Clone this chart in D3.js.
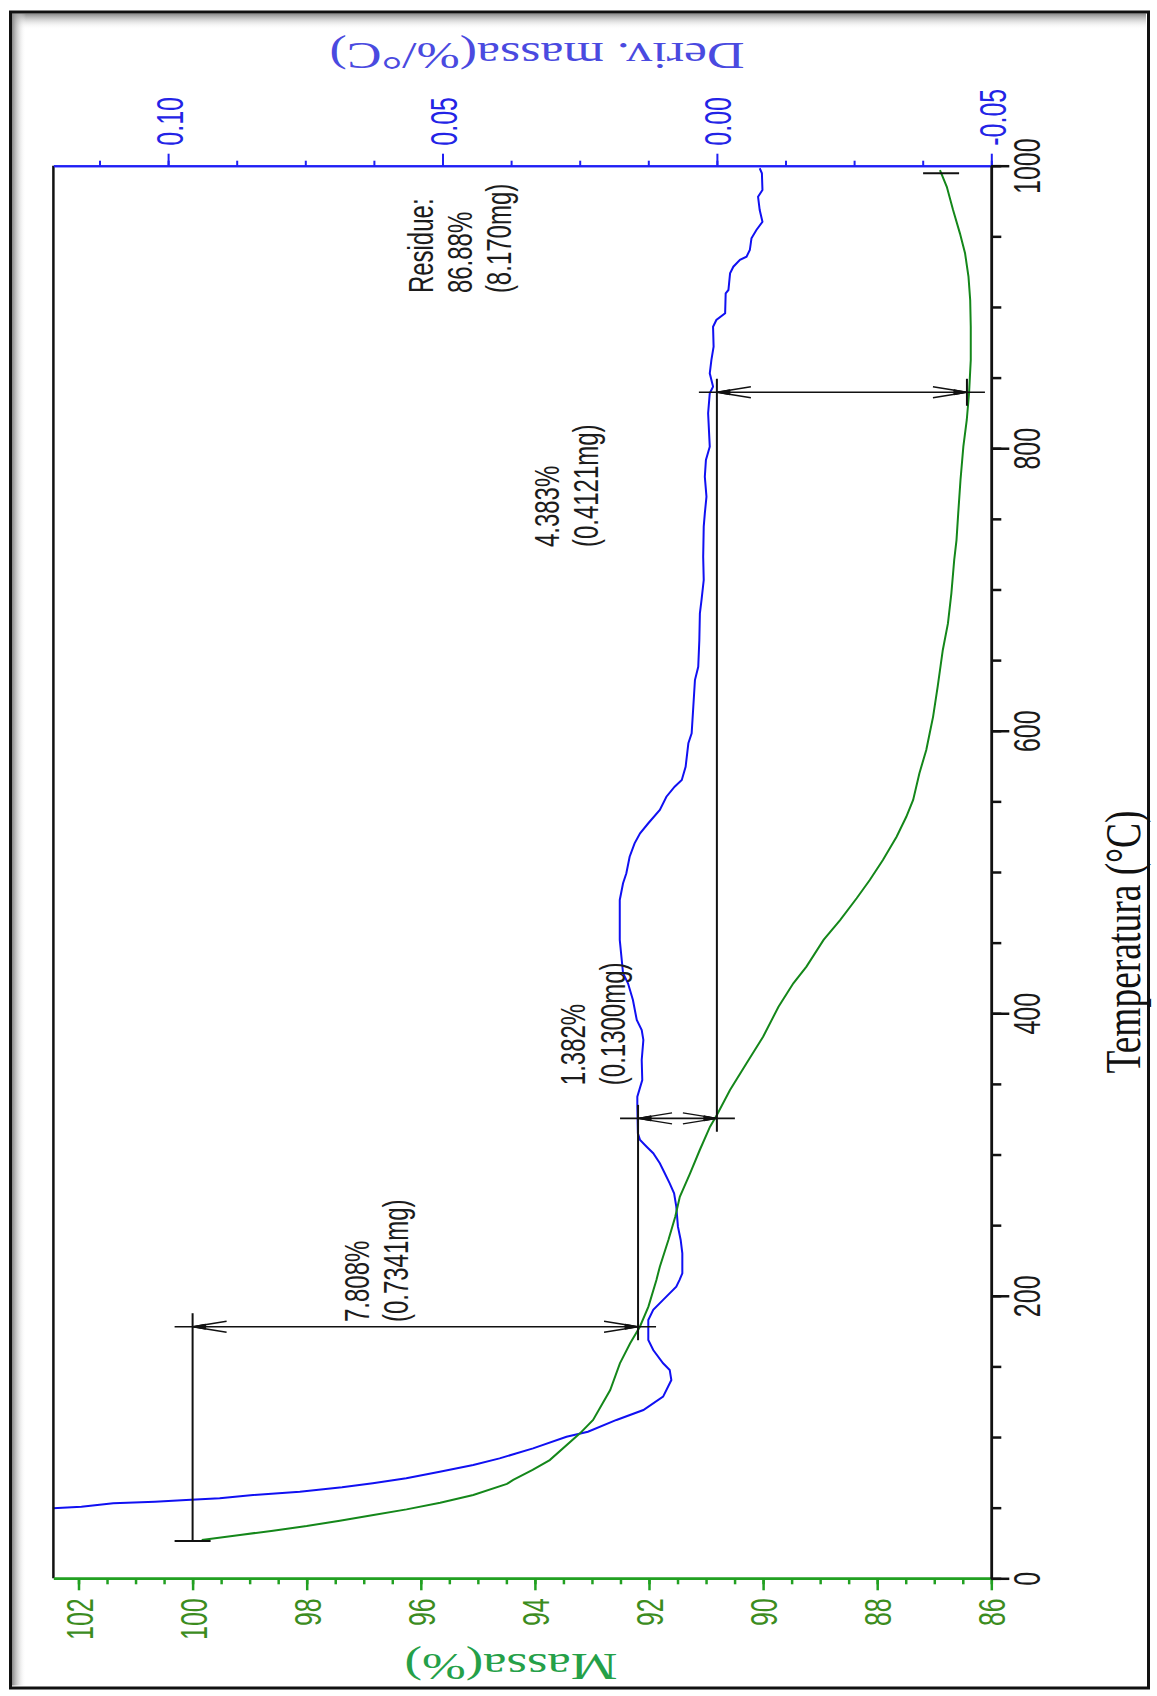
<!DOCTYPE html>
<html>
<head>
<meta charset="utf-8">
<script src="https://cdn.jsdelivr.net/npm/d3@7/dist/d3.min.js"></script>
<style>
  body { margin: 0; background: #fff; }
  svg { display: block; }
</style>
</head>
<body>
<svg id="chart" width="1157" height="1696"></svg>
<script>
// TG curve (mass %) and DTG curve (deriv. mass %/°C)
var tgTemp = [27.1, 30.7, 33.7, 37.0, 40.8, 44.8, 48.8, 53.5, 59.0, 66.8, 69.6, 76.7, 83.7, 102.6, 112.1, 133.3,
  152.2, 166.4, 178.1, 192.3, 211.2, 220.6, 239.5, 256, 270.1, 286.7, 303.2, 319.7, 328, 345.7, 364.6, 383.4,
  404.6, 421.2, 433, 451.9, 466, 481.4, 494.3, 508.5, 525, 539.1, 551, 569.9, 586.4, 598.2, 610, 631.2, 657.2,
  676, 697.3, 720.9, 735, 753.9, 777.5, 801.1, 820, 838.9, 862.5, 886, 904.9, 921.4, 938, 952.1, 968.6, 985.1, 996.9];
var tgMass = [99.84, 99.17, 98.59, 98.0, 97.42, 96.83, 96.25, 95.66, 95.08, 94.49, 94.38, 94.04, 93.74, 93.21,
  92.98, 92.68, 92.51, 92.33, 92.16, 92.01, 91.87, 91.81, 91.66, 91.54, 91.46, 91.28, 91.11, 90.93, 90.81, 90.58,
  90.29, 90.0, 89.73, 89.47, 89.24, 88.94, 88.65, 88.36, 88.13, 87.9, 87.66, 87.49, 87.37, 87.26, 87.14, 87.08,
  87.02, 86.94, 86.85, 86.76, 86.70, 86.65, 86.61, 86.58, 86.54, 86.49, 86.43, 86.39, 86.36, 86.36, 86.37, 86.40,
  86.46, 86.55, 86.67, 86.78, 86.90];

var dtgTemp = [46, 49.6, 50.7, 53.1, 54.2, 55.4, 56.6, 59.0, 61.3, 64.4, 67.3, 70.8, 75.5, 80.2, 84.9, 92.0, 100.2,
  103.8, 112.1, 119.1, 128.6, 140.4, 147.5, 152.2, 161.6, 168.7, 182.9, 190, 197.1, 206.4, 211.2, 215.9, 230.1,
  239.5, 248.9, 263.1, 272.5, 279.6, 286.7, 293.8, 300.9, 305.5, 310.3, 315, 333.9, 340.9, 352.7, 366.9, 381.1,
  388.1, 395.2, 409.4, 421.2, 428.3, 451.9, 480.2, 492, 499.1, 510.8, 520.3, 527.4, 534.5, 543.9, 553.3, 560.4,
  565.1, 574.5, 591.1, 598.2, 617, 635.9, 645.3, 664.2, 683.1, 692.6, 706.7, 723.2, 744.5, 753.9, 765.7, 779.8,
  791.7, 801.1, 824.7, 838.9, 843.6, 853, 862.5, 871.9, 886, 890.8, 895.5, 909.7, 912, 923.8, 928.5, 933.3,
  935.6, 940.3, 948.6, 954.5, 960.3, 968.6, 978, 982.8, 994.6, 998.2];
var dtgDeriv = [0.1235, 0.1210, 0.1158, 0.1100, 0.1024, 0.0967, 0.0906, 0.0845, 0.0760, 0.0683, 0.0627, 0.0566,
  0.0505, 0.0444, 0.0396, 0.0335, 0.0274, 0.0235, 0.0183, 0.0134, 0.0098, 0.0083, 0.0086, 0.0098, 0.0116, 0.0125,
  0.0125, 0.0116, 0.0098, 0.0074, 0.0068, 0.0063, 0.0063, 0.0066, 0.0071, 0.0074, 0.0078, 0.0086, 0.0095, 0.0104,
  0.0116, 0.0128, 0.0140, 0.0144, 0.0145, 0.0145, 0.0136, 0.0137, 0.0134, 0.0137, 0.0146, 0.0153, 0.0162, 0.0171,
  0.0177, 0.0177, 0.0171, 0.0165, 0.0159, 0.0150, 0.0140, 0.0125, 0.0104, 0.0092, 0.0077, 0.0064, 0.0057, 0.0052,
  0.0046, 0.0043, 0.0040, 0.0034, 0.0032, 0.0031, 0.0028, 0.0024, 0.0025, 0.0024, 0.0022, 0.0019, 0.0022, 0.0020,
  0.0013, 0.0016, 0.0013, 0.0007, 0.0013, 0.0010, 0.0006, 0.0007, 0.0001, -0.0015, -0.0016, -0.0021, -0.0024,
  -0.0030, -0.0042, -0.0054, -0.0060, -0.0063, -0.0072, -0.0083, -0.0078, -0.0075, -0.0083, -0.0082, -0.0078];

// axis ticks
var massTicks = [86, 88, 90, 92, 94, 96, 98, 100, 102];
var derivTicks = [-0.05, 0.00, 0.05, 0.10];
var tempTicks = [0, 200, 400, 600, 800, 1000];

// weight-loss steps (TA analysis marks)
var stepTemps = [178.1, 325.6, 839.6];
var stepLevels = [100, 92.192, 90.81, 86.427];
var stepPct = ["7.808%", "1.382%", "4.383%"];
var stepMg = ["(0.7341mg)", "(0.1300mg)", "(0.4121mg)"];
var startTemp = 26.4;
var residueTemp = 994.6, residueMass = 86.88;
var residueLines = ["Residue:", "86.88%", "(8.170mg)"];

// label anchors, in data units [temperature, mass]
var stepLabelAt = [[181.4, 96.91], [349.1, 93.12], [730, 93.58]];
var residueLabelAt = [909.8, 95.79];

var svg = d3.select("#chart");
var pLeft = 53.4, pRight = 991.3, pTop = 165.7, pBottom = 1578.3;

var x = d3.scaleLinear().domain([86, 102.44]).range([pRight, pLeft]);
var xd = d3.scaleLinear().domain([-0.05, 0.1209]).range([pRight, pLeft]);
var y = d3.scaleLinear().domain([0, 1000]).range([pBottom, pTop]);

var sans = "'Liberation Sans', Arial, sans-serif";
var serif = "'Liberation Serif', 'Times New Roman', serif";

// outer picture frame with a little inner shadow
var defs = svg.append("defs");
var gTop = defs.append("linearGradient").attr("id", "shTop").attr("x1", 0).attr("y1", 0).attr("x2", 0).attr("y2", 1);
gTop.append("stop").attr("offset", 0).attr("stop-color", "#888");
gTop.append("stop").attr("offset", 1).attr("stop-color", "#fff").attr("stop-opacity", 0);
var gLeft = defs.append("linearGradient").attr("id", "shLeft").attr("x1", 0).attr("y1", 0).attr("x2", 1).attr("y2", 0);
gLeft.append("stop").attr("offset", 0).attr("stop-color", "#888");
gLeft.append("stop").attr("offset", 1).attr("stop-color", "#fff").attr("stop-opacity", 0);
defs.append("clipPath").attr("id", "plotClip").append("rect")
  .attr("x", pLeft).attr("y", pTop).attr("width", pRight - pLeft).attr("height", pBottom - pTop);

svg.append("rect").attr("x", 12).attr("y", 13.5).attr("width", 1134).attr("height", 16).attr("fill", "url(#shTop)");
svg.append("rect").attr("x", 12).attr("y", 13.5).attr("width", 14).attr("height", 1672).attr("fill", "url(#shLeft)");
svg.append("rect").attr("x", 10.5).attr("y", 12).attr("width", 1138).attr("height", 1676)
  .attr("fill", "none").attr("stroke", "#111").attr("stroke-width", 3);

// curves
var plot = svg.append("g").attr("clip-path", "url(#plotClip)");

var dtgLine = d3.line().x(function(d, i) { return xd(dtgDeriv[i]); }).y(function(d) { return y(d); });
plot.append("path").datum(dtgTemp).attr("d", dtgLine)
  .attr("fill", "none").attr("stroke", "#1010f2").attr("stroke-width", 2);

var tgLine = d3.line().x(function(d, i) { return x(tgMass[i]); }).y(function(d) { return y(d); });
plot.append("path").datum(tgTemp).attr("d", tgLine)
  .attr("fill", "none").attr("stroke", "#14871a").attr("stroke-width", 2);

// step marks: level lines, double arrows and end caps
var marks = svg.append("g").attr("stroke", "#111").attr("fill", "none");
var over = 13.5, ext = 18;

stepLevels.forEach(function(m, i) {
  var y0 = i == 0 ? y(startTemp) : y(stepTemps[i - 1]) + over;
  var y1 = i < stepTemps.length ? y(stepTemps[i]) - over : y(stepTemps[i - 1]) - over;
  marks.append("line").attr("x1", x(m)).attr("x2", x(m)).attr("y1", y0).attr("y2", y1).attr("stroke-width", 2);
});

function head(tipX, yy, dir) {
  marks.append("path")
    .attr("d", "M" + (tipX + dir * 34) + "," + (yy - 5.5) + "L" + tipX + "," + yy + "L" + (tipX + dir * 34) + "," + (yy + 5.5))
    .attr("stroke-width", 1.4);
  marks.append("path")
    .attr("d", "M" + tipX + "," + yy + "L" + (tipX + dir * 13) + "," + (yy - 2.5) + "L" + (tipX + dir * 13) + "," + (yy + 2.5) + "Z")
    .attr("fill", "#111").attr("stroke-width", 1);
}

stepTemps.forEach(function(t, i) {
  var xa = x(stepLevels[i]), xb = x(stepLevels[i + 1]), yy = y(t);
  marks.append("line").attr("x1", xa - ext).attr("x2", xb + ext).attr("y1", yy).attr("y2", yy).attr("stroke-width", 1.6);
  head(xa, yy, 1);
  head(xb, yy, -1);
});

marks.append("line").attr("x1", x(100) - ext).attr("x2", x(100) + ext)
  .attr("y1", y(startTemp)).attr("y2", y(startTemp)).attr("stroke-width", 2);
marks.append("line").attr("x1", x(residueMass) - ext).attr("x2", x(residueMass) + ext)
  .attr("y1", y(residueTemp)).attr("y2", y(residueTemp)).attr("stroke-width", 2);

// annotation texts (rotated like the rest of the picture)
function upText(g, str, px, py, size, k, anchor, font, color) {
  return g.append("text").text(str)
    .attr("transform", "translate(" + px + "," + py + ") rotate(-90) scale(1," + k + ")")
    .attr("text-anchor", anchor).attr("font-family", font).attr("font-size", size).attr("fill", color);
}
var notes = svg.append("g");
stepLabelAt.forEach(function(p, i) {
  [stepPct[i], stepMg[i]].forEach(function(s, j) {
    upText(notes, s, x(p[1]) + j * 39.5, y(p[0]), 24, 1.45, "start", sans, "#1c1c1c");
  });
});
residueLines.forEach(function(s, j) {
  upText(notes, s, x(residueLabelAt[1]) + j * 39, y(residueLabelAt[0]), 24, 1.45, "start", sans, "#1c1c1c");
});

// axes
function paint(g, color, w) {
  g.select(".domain").attr("stroke", color).attr("stroke-width", w);
  g.selectAll(".tick line").attr("stroke", color).attr("stroke-width", w);
}
function relabel(g, tx, ty, anchor, color) {
  g.selectAll(".tick text")
    .attr("x", null).attr("y", null).attr("dy", null)
    .attr("transform", "translate(" + tx + "," + ty + ") rotate(-90) scale(1,1.5)")
    .attr("text-anchor", anchor).attr("fill", color)
    .attr("font-family", sans).attr("font-size", 25);
}

// left frame edge
svg.append("line").attr("x1", pLeft).attr("x2", pLeft).attr("y1", pTop).attr("y2", pBottom)
  .attr("stroke", "#111").attr("stroke-width", 2.5);

// deriv axis on top (blue)
var derivMinor = d3.range(0, 14).map(function(i) { return -0.05 + i * 0.0125; }).filter(function(v) { return v <= 0.1209; });
var topMinor = svg.append("g").attr("transform", "translate(0," + pTop + ")")
  .call(d3.axisTop(xd).tickValues(derivMinor).tickSize(5).tickSizeOuter(0).tickFormat(""));
paint(topMinor, "#1f1ff5", 2);
var topMajor = svg.append("g").attr("transform", "translate(0," + pTop + ")")
  .call(d3.axisTop(xd).tickValues(derivTicks).tickSize(12).tickSizeOuter(0)
    .tickFormat(function(d) { return d.toFixed(2); }));
paint(topMajor, "#1f1ff5", 2);
relabel(topMajor, 14, -20, "start", "#2323e6");

// mass axis at the bottom (green)
var massMinor = d3.range(86, 102.45, 0.5);
var botMinor = svg.append("g").attr("transform", "translate(0," + pBottom + ")")
  .call(d3.axisBottom(x).tickValues(massMinor).tickSize(6).tickSizeOuter(0).tickFormat(""));
paint(botMinor, "#22a022", 2.5);
var botMajor = svg.append("g").attr("transform", "translate(0," + pBottom + ")")
  .call(d3.axisBottom(x).tickValues(massTicks).tickSize(12).tickSizeOuter(0).tickFormat(d3.format("d")));
paint(botMajor, "#22a022", 2.5);
relabel(botMajor, 13.5, 20, "end", "#3c8c1e");

// temperature axis on the right (black)
var tempMinor = d3.range(0, 1001, 50);
var rMinor = svg.append("g").attr("transform", "translate(" + pRight + ",0)")
  .call(d3.axisRight(y).tickValues(tempMinor).tickSize(10).tickSizeOuter(0).tickFormat(""));
paint(rMinor, "#111", 2.5);
var rMajor = svg.append("g").attr("transform", "translate(" + pRight + ",0)")
  .call(d3.axisRight(y).tickValues(tempTicks).tickSize(18).tickSizeOuter(0).tickFormat(d3.format("d")));
paint(rMajor, "#111", 2.5);
relabel(rMajor, 49, 0, "middle", "#1a1a1a");

// axis titles
upText(svg, "Temperatura (°C)", 1140, 942, 37.5, 1.33, "middle", serif, "#111");
svg.append("text").text("Massa(%)")
  .attr("transform", "translate(511,1654) rotate(180) scale(1.42,1)")
  .attr("text-anchor", "middle").attr("font-family", serif).attr("font-size", 37).attr("fill", "#25a048");
svg.append("text").text("Deriv. massa(%/°C)")
  .attr("transform", "translate(537,43) rotate(180) scale(1.365,1)")
  .attr("text-anchor", "middle").attr("font-family", serif).attr("font-size", 38).attr("fill", "#4a4ae0");
</script>
</body>
</html>
